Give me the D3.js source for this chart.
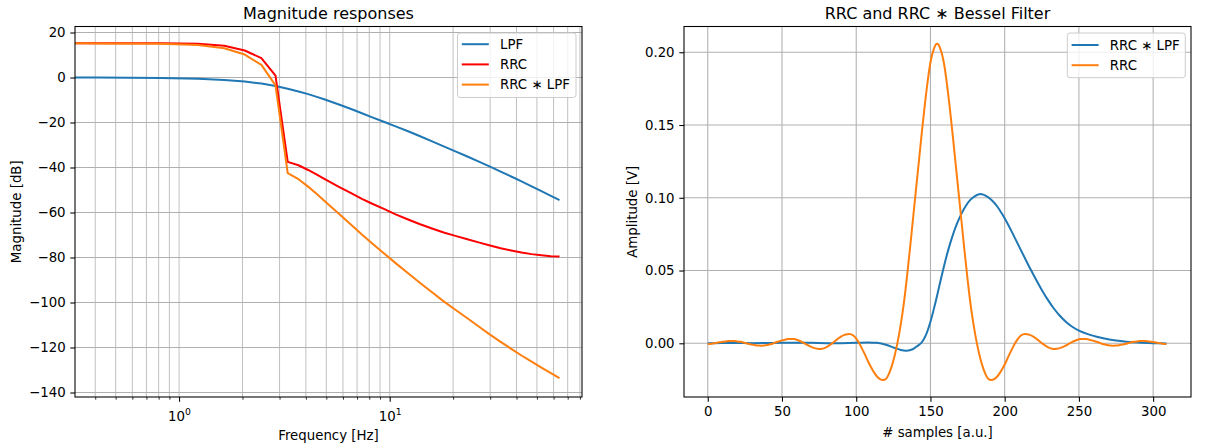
<!DOCTYPE html>
<html><head><meta charset="utf-8">
<script src="https://cdn.jsdelivr.net/npm/d3@7"></script>
<style>
body{margin:0;background:#fff}
text{font-family:"DejaVu Sans",sans-serif;fill:#000}
</style>
</head><body>
<svg id="c" width="1205" height="446"></svg>
<script>
// ---------------- DATA ----------------
// Left panel: magnitude responses (frequency in Hz, magnitude in dB)
const freqHz = [0, 0.41, 0.82, 1.23, 1.64, 2.05, 2.46, 2.87, 3.28, 3.69, 4.10, 4.51, 4.92, 5.74, 6.56, 7.38, 8.21, 9.44, 10.67, 12.31, 13.95, 16.00, 18.05, 20.51, 23.38, 26.67, 29.95, 33.64, 37.74, 42.26, 47.18, 52.51, 58.26, 64.00];
const lpfDb = [0, -0.05, -0.2, -0.6, -1.1, -1.8, -2.7, -3.8, -5.0, -6.2, -7.4, -8.6, -9.8, -12.0, -14.0, -15.9, -17.6, -19.8, -21.7, -24.0, -26.1, -28.5, -30.6, -32.8, -35.1, -37.5, -39.6, -41.8, -44.0, -46.2, -48.4, -50.5, -52.6, -54.5];
const rrcDb = [15.2, 15.2, 15.2, 15.0, 14.1, 12.0, 8.6, 0.8, -37.5, -39.0, -41.1, -43.2, -45.2, -48.6, -51.4, -53.9, -56.0, -58.5, -60.8, -63.2, -65.2, -67.2, -68.9, -70.4, -71.9, -73.4, -74.7, -75.9, -76.9, -77.8, -78.5, -79.0, -79.4, -79.5];
const rrcLpfDb = [15.2, 15.15, 15.0, 14.4, 13.0, 10.2, 5.6, -3.5, -42.5, -45.2, -48.5, -51.8, -55.0, -60.6, -65.4, -69.8, -73.6, -78.3, -82.5, -87.2, -91.3, -95.7, -99.5, -103.2, -107.0, -110.9, -114.3, -117.5, -120.6, -123.55, -126.3, -128.9, -131.35, -133.6];
const leftSeries = ["LPF", "RRC", "RRC \u2217 LPF"];
const leftYTicks = [-140, -120, -100, -80, -60, -40, -20, 0, 20];

// Right panel: impulse responses (sample index, amplitude in V)
const rrcSamples = d3.range(0, 155, 2).concat(d3.range(155, 310, 2));
const rrcAmp = [
 -0.0005,-0.0003,0.0000,0.0003,0.0007,0.0010,0.0013,0.0015,0.0016,0.0015,
 0.0013,0.0010,0.0006,0.0000,-0.0005,-0.0009,-0.0013,-0.0015,-0.0016,-0.0015,
 -0.0012,-0.0007,-0.0001,0.0007,0.0013,0.0020,0.0025,0.0029,0.0030,0.0029,
 0.0024,0.0016,0.0006,-0.0005,-0.0016,-0.0026,-0.0033,-0.0038,-0.0039,-0.0035,
 -0.0026,-0.0013,0.0002,0.0018,0.0034,0.0048,0.0058,0.0063,0.0063,0.0054,
 0.0032,0.0000,-0.0038,-0.0080,-0.0125,-0.0165,-0.0200,-0.0228,-0.0246,-0.0252,
 -0.0245,-0.0210,-0.0155,-0.0080,0.0015,0.0130,0.0270,0.0440,0.0630,0.0830,
 0.1030,0.1230,0.1430,0.1620,0.1790,0.1930,0.2013,0.2057,
 0.2057,0.2013,0.1930,0.1790,0.1620,0.1430,0.1230,0.1030,
 0.0830,0.0630,0.0440,0.0270,0.0130,0.0015,-0.0080,-0.0155,-0.0210,-0.0245,
 -0.0252,-0.0246,-0.0228,-0.0200,-0.0165,-0.0125,-0.0080,-0.0038,0.0000,0.0032,
 0.0054,0.0063,0.0063,0.0058,0.0048,0.0034,0.0018,0.0002,-0.0013,-0.0026,
 -0.0035,-0.0039,-0.0038,-0.0033,-0.0026,-0.0016,-0.0005,0.0006,0.0016,0.0024,
 0.0029,0.0030,0.0029,0.0025,0.0020,0.0013,0.0007,-0.0001,-0.0007,-0.0012,
 -0.0015,-0.0016,-0.0015,-0.0013,-0.0009,-0.0005,0.0000,0.0006,0.0010,0.0013,
 0.0015,0.0016,0.0015,0.0013,0.0010,0.0007,0.0003,0.0000,-0.0003,-0.0005];
const convSamples = [0,10,20,30,40,50,60,70,80,90,100,108,114,120,126,130,134,138,141,144,147,150,153,156,159,162,165,168,171,174,177,180,183,186,189,192,195,198,201,205,209,213,217,221,225,229,233,237,241,245,250,256,262,268,275,282,290,300,309];
const convAmp = [0,0.0002,0.0002,0.0001,0.0002,0.0004,0.0004,0.0003,0.0001,0.0001,0.0003,0.0006,0.0003,-0.0010,-0.0032,-0.0046,-0.0051,-0.0041,-0.0020,0.0004,0.0058,0.0148,0.0265,0.0395,0.0525,0.0642,0.0742,0.0825,0.0893,0.0947,0.0987,0.1012,0.1025,0.1020,0.1003,0.0976,0.0940,0.0893,0.0840,0.0762,0.0680,0.0598,0.0517,0.0440,0.0367,0.0300,0.0241,0.0191,0.0150,0.0117,0.0087,0.0063,0.0045,0.0031,0.0019,0.0011,0.0005,0.0001,-0.0001];
const rightSeries = ["RRC \u2217 LPF", "RRC"];
const rightXTicks = [0, 50, 100, 150, 200, 250, 300];
const rightYTicks = [0.00, 0.05, 0.10, 0.15, 0.20];

// ---------------- STYLE ----------------
const FS = 13.33, TITLE_FS = 16;
const C_BLUE = "#1f77b4", C_RED = "#ff0000", C_ORANGE = "#ff7f0e";
const GRID = "#b0b0b0";
const svg = d3.select("#c");

const L = {x0: 75, x1: 582, y0: 26.5, y1: 397};
const R = {x0: 684, x1: 1191, y0: 26.5, y1: 397};

function clip(id, p) {
  svg.append("clipPath").attr("id", id).append("rect")
    .attr("x", p.x0).attr("y", p.y0).attr("width", p.x1 - p.x0).attr("height", p.y1 - p.y0);
}
clip("clipL", L); clip("clipR", R);

function styleAxis(g, major) {
  g.select(".domain").remove();
  g.selectAll(".tick line").attr("stroke", "#000").attr("stroke-width", major ? 1.07 : 0.8);
  g.selectAll(".tick text").attr("font-size", FS).attr("font-family", "DejaVu Sans").attr("fill", "#000");
}

function legend(x0, x1, y0, y1, items, firstY) {
  const g = svg.append("g");
  g.append("rect").attr("x", x0).attr("y", y0).attr("width", x1 - x0).attr("height", y1 - y0)
    .attr("rx", 2.7).attr("fill", "#fff").attr("fill-opacity", 0.8)
    .attr("stroke", "#cccccc").attr("stroke-width", 1);
  items.forEach((it, i) => {
    const y = firstY + i * 20.2;
    g.append("line").attr("x1", x0 + 4.3).attr("x2", x0 + 31.3).attr("y1", y).attr("y2", y)
      .attr("stroke", it.color).attr("stroke-width", 2);
    g.append("text").attr("x", x0 + 42.5).attr("y", y).attr("dy", "0.35em")
      .attr("font-size", FS).text(it.label);
  });
}

// ================= LEFT PANEL =================
const xL = d3.scaleLog().domain([0.3206, 81.85]).range([L.x0, L.x1]);
const yL = d3.scaleLinear().domain([-142.0, 22.67]).range([L.y1, L.y0]);
const allX = xL.ticks();
const isMajor = d => Math.abs(Math.log10(d) - Math.round(Math.log10(d))) < 1e-9;
const majX = allX.filter(isMajor), minX = allX.filter(d => !isMajor(d));

const gl = svg.append("g");
gl.selectAll(".gx").data(allX).enter().append("line")
  .attr("x1", d => xL(d)).attr("x2", d => xL(d)).attr("y1", L.y0).attr("y2", L.y1)
  .attr("stroke", GRID).attr("stroke-width", 0.8);
gl.selectAll(".gy").data(leftYTicks).enter().append("line")
  .attr("x1", L.x0).attr("x2", L.x1).attr("y1", d => yL(d)).attr("y2", d => yL(d))
  .attr("stroke", GRID).attr("stroke-width", 1.07);

const lineL = vals => d3.line()
  .x((d, i) => freqHz[i] > 0 ? xL(freqHz[i]) : L.x0 - 20)
  .y((d, i) => yL(vals[i]))(vals);
const lp = svg.append("g").attr("clip-path", "url(#clipL)");
[[lpfDb, C_BLUE], [rrcDb, C_RED], [rrcLpfDb, C_ORANGE]].forEach(([v, c]) => {
  lp.append("path").attr("d", lineL(v)).attr("fill", "none").attr("stroke", c)
    .attr("stroke-width", 2).attr("stroke-linejoin", "round").attr("stroke-linecap", "butt");
});

const axLminor = svg.append("g").attr("transform", `translate(0,${L.y1})`)
  .call(d3.axisBottom(xL).tickValues(minX).tickSize(2.7).tickFormat(""));
styleAxis(axLminor, false);
const axLmajor = svg.append("g").attr("transform", `translate(0,${L.y1})`)
  .call(d3.axisBottom(xL).tickValues(majX).tickSize(4.7).tickPadding(4.7));
styleAxis(axLmajor, true);
axLmajor.selectAll(".tick text").each(function(d) {
  const t = d3.select(this);
  t.text("").attr("dy", null).attr("y", 23.5);
  t.append("tspan").text("10");
  t.append("tspan").attr("dy", -5.5).attr("font-size", 9.3).text(Math.round(Math.log10(d)));
});
const ayL = svg.append("g").attr("transform", `translate(${L.x0},0)`)
  .call(d3.axisLeft(yL).tickValues(leftYTicks).tickSize(4.7).tickPadding(4.7)
    .tickFormat(d => d < 0 ? "\u2212" + Math.abs(d) : String(d)));
styleAxis(ayL, true);

svg.append("rect").attr("x", L.x0).attr("y", L.y0).attr("width", L.x1 - L.x0).attr("height", L.y1 - L.y0)
  .attr("fill", "none").attr("stroke", "#000").attr("stroke-width", 1.07);

svg.append("text").attr("x", (L.x0 + L.x1) / 2).attr("y", 19).attr("text-anchor", "middle")
  .attr("font-size", TITLE_FS).text("Magnitude responses");
svg.append("text").attr("x", (L.x0 + L.x1) / 2).attr("y", 440).attr("text-anchor", "middle")
  .attr("font-size", FS).text("Frequency [Hz]");
svg.append("text").attr("transform", `translate(20.5,${(L.y0 + L.y1) / 2}) rotate(-90)`)
  .attr("text-anchor", "middle").attr("font-size", FS).text("Magnitude [dB]");

legend(457.5, 576, 33, 97.5, [
  {label: leftSeries[0], color: C_BLUE},
  {label: leftSeries[1], color: C_RED},
  {label: leftSeries[2], color: C_ORANGE}], 44.2);

// ================= RIGHT PANEL =================
const xR = d3.scaleLinear().domain([-16, 325.5]).range([R.x0, R.x1]);
const yR = d3.scaleLinear().domain([-0.0369, 0.2177]).range([R.y1, R.y0]);

const gr = svg.append("g");
gr.selectAll(".gx").data(rightXTicks).enter().append("line")
  .attr("x1", d => xR(d)).attr("x2", d => xR(d)).attr("y1", R.y0).attr("y2", R.y1)
  .attr("stroke", GRID).attr("stroke-width", 1.07);
gr.selectAll(".gy").data(rightYTicks).enter().append("line")
  .attr("x1", R.x0).attr("x2", R.x1).attr("y1", d => yR(d)).attr("y2", d => yR(d))
  .attr("stroke", GRID).attr("stroke-width", 1.07);

const rp = svg.append("g").attr("clip-path", "url(#clipR)");
const lineR = (xs, vs) => d3.line().curve(d3.curveCatmullRom.alpha(0.5))
  .x((d, i) => xR(xs[i])).y((d, i) => yR(vs[i]))(vs);
rp.append("path").attr("d", lineR(convSamples, convAmp)).attr("fill", "none")
  .attr("stroke", C_BLUE).attr("stroke-width", 2).attr("stroke-linejoin", "round");
rp.append("path").attr("d", lineR(rrcSamples, rrcAmp)).attr("fill", "none")
  .attr("stroke", C_ORANGE).attr("stroke-width", 2).attr("stroke-linejoin", "round");

const axR = svg.append("g").attr("transform", `translate(0,${R.y1})`)
  .call(d3.axisBottom(xR).tickValues(rightXTicks).tickSize(4.7).tickPadding(4.7));
styleAxis(axR, true);
const ayR = svg.append("g").attr("transform", `translate(${R.x0},0)`)
  .call(d3.axisLeft(yR).tickValues(rightYTicks).tickSize(4.7).tickPadding(4.7).tickFormat(d3.format(".2f")));
styleAxis(ayR, true);

svg.append("rect").attr("x", R.x0).attr("y", R.y0).attr("width", R.x1 - R.x0).attr("height", R.y1 - R.y0)
  .attr("fill", "none").attr("stroke", "#000").attr("stroke-width", 1.07);

svg.append("text").attr("x", (R.x0 + R.x1) / 2).attr("y", 19).attr("text-anchor", "middle")
  .attr("font-size", TITLE_FS).text("RRC and RRC \u2217 Bessel Filter");
svg.append("text").attr("x", (R.x0 + R.x1) / 2).attr("y", 436.5).attr("text-anchor", "middle")
  .attr("font-size", FS).text("# samples [a.u.]");
svg.append("text").attr("transform", `translate(636.5,${(R.y0 + R.y1) / 2}) rotate(-90)`)
  .attr("text-anchor", "middle").attr("font-size", FS).text("Amplitude [V]");

legend(1067.3, 1185.3, 33, 77.7, [
  {label: rightSeries[0], color: C_BLUE},
  {label: rightSeries[1], color: C_ORANGE}], 45);
</script>
</body></html>
